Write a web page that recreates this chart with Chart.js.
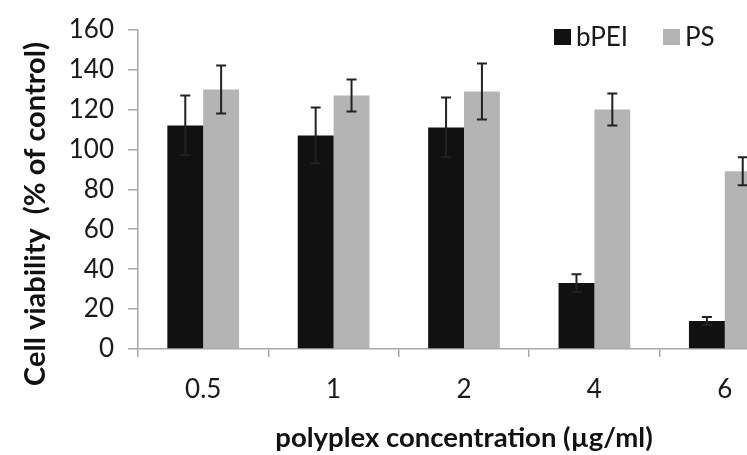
<!DOCTYPE html>
<html>
<head>
<meta charset="utf-8">
<script src="https://cdn.jsdelivr.net/npm/chart.js@4.4.1/dist/chart.umd.min.js"></script>
<style>
  html, body { margin: 0; padding: 0; background: #fff; overflow: hidden; }
  #wrap { width: 796px; height: 455px; }
</style>
</head>
<body>
<div id="wrap"><canvas id="chart"></canvas></div>
<script>
// values
var concentrations = ['0.5', '1', '2', '4', '6'];
var bpeiValues = [112, 107, 111, 33, 14];
var bpeiErrors = [15, 14, 15, 4.5, 2];
var psValues = [130, 127, 129, 120, 89];
var psErrors = [12, 8, 14, 8, 7];
var yTicks = [0, 20, 40, 60, 80, 100, 120, 140, 160];
var yTitle = 'Cell viability  (% of control)';

var fontName = 'Lato';
var axisGray = '#a8a8a8';

// error bars drawn from the bar elements and the y scale
var errorBars = {
    id: 'errorBars',
    afterDatasetsDraw: function(chart) {
        var ctx = chart.ctx;
        var y = chart.scales.y;
        ctx.save();
        ctx.strokeStyle = '#222';
        ctx.lineWidth = 2;
        chart.data.datasets.forEach(function(ds, di) {
            var meta = chart.getDatasetMeta(di);
            meta.data.forEach(function(bar, i) {
                var v = ds.data[i], e = ds.errors[i];
                var top = y.getPixelForValue(v + e);
                var bot = y.getPixelForValue(v - e);
                ctx.beginPath();
                ctx.moveTo(bar.x, top); ctx.lineTo(bar.x, bot);
                ctx.moveTo(bar.x - 5, top); ctx.lineTo(bar.x + 5, top);
                ctx.moveTo(bar.x - 5, bot); ctx.lineTo(bar.x + 5, bot);
                ctx.stroke();
            });
        });
        ctx.restore();
    }
};

// legend in the top right of the plot, and the y title (sits lower than centre)
var extraText = {
    id: 'extraText',
    afterDraw: function(chart) {
        var ctx = chart.ctx;
        var xs = [554, 663];
        ctx.save();
        ctx.font = '26px ' + fontName;
        ctx.textBaseline = 'middle';
        chart.data.datasets.forEach(function(ds, i) {
            ctx.fillStyle = ds.backgroundColor;
            ctx.fillRect(xs[i], 29, 17, 16);
            ctx.fillStyle = '#1a1a1a';
            ctx.fillText(ds.label, xs[i] + 22, 38);
        });
        ctx.translate(36, 214);
        ctx.rotate(-Math.PI / 2);
        ctx.textAlign = 'center';
        ctx.fillStyle = '#111';
        ctx.font = 'bold 29px ' + fontName;
        ctx.fillText(yTitle, 0, 0);
        ctx.restore();
    }
};

var myChart = new Chart(document.getElementById('chart'), {
    type: 'bar',
    data: {
        labels: concentrations,
        datasets: [{
            label: 'bPEI',
            data: bpeiValues,
            errors: bpeiErrors,
            backgroundColor: '#111111',
            barPercentage: 1,
            categoryPercentage: 0.55
        },
        {
            label: 'PS',
            data: psValues,
            errors: psErrors,
            backgroundColor: '#b4b4b4',
            barPercentage: 1,
            categoryPercentage: 0.55
        }]
    },
    options: {
        responsive: true,
        maintainAspectRatio: false,
        animation: false,
        layout: { padding: { top: 20, left: 0, right: 6, bottom: 0 } },
        plugins: {
            legend: { display: false },
            tooltip: { enabled: false }
        },
        scales: {
            x: {
                grid: { display: true, drawOnChartArea: false, offset: true, color: axisGray, tickLength: 8, lineWidth: 1.5 },
                border: { color: axisGray, width: 1.5 },
                ticks: { color: '#1a1a1a', font: { family: fontName, size: 26 }, padding: 17 },
                title: {
                    display: true,
                    text: 'polyplex concentration (\u00b5g/ml)',
                    color: '#111',
                    font: { family: fontName, size: 27.5, weight: 'bold' },
                    padding: { top: 4, bottom: 0 }
                },
                afterFit: function(scale) { scale.height = 106; }
            },
            y: {
                min: 0,
                max: 160,
                afterBuildTicks: function(scale) {
                    scale.ticks = yTicks.map(function(v) { return { value: v }; });
                },
                grid: { display: true, drawOnChartArea: false, color: axisGray, tickLength: 10, lineWidth: 1.5 },
                border: { color: axisGray, width: 1.5 },
                ticks: { color: '#1a1a1a', font: { family: fontName, size: 26 }, padding: 14 },
                title: { display: false },
                afterFit: function(scale) { scale.width = 138; }
            }
        }
    },
    plugins: [errorBars, extraText]
});
</script>
</body>
</html>
